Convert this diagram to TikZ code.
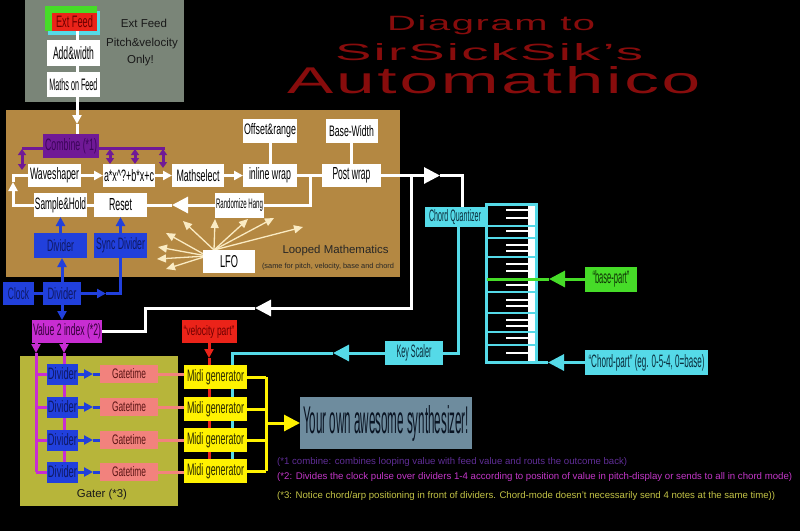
\documentclass[tikz,border=0pt]{standalone}
\usepackage{fontspec}
\setmainfont{Liberation Sans}
\usepackage{graphicx}
\usetikzlibrary{arrows.meta}
\pgfdeclarelayer{panel}
\pgfdeclarelayer{lines}
\pgfsetlayers{panel,lines,main}
\newcommand{\fitt}[3]{\resizebox{#1pt}{#2pt}{#3}}
\definecolor{greyp}{RGB}{122,133,120}
\definecolor{brownp}{RGB}{180,136,66}
\definecolor{olivep}{RGB}{183,181,58}
\definecolor{blueb}{RGB}{33,64,220}
\definecolor{bluet}{RGB}{15,25,100}
\definecolor{purpb}{RGB}{112,25,150}
\definecolor{purpt}{RGB}{60,5,90}
\definecolor{magb}{RGB}{200,45,210}
\definecolor{magt}{RGB}{55,0,60}
\definecolor{salm}{RGB}{242,130,125}
\definecolor{salmt}{RGB}{90,20,20}
\definecolor{yelb}{RGB}{255,242,0}
\definecolor{yelt}{RGB}{40,40,0}
\definecolor{cyanb}{RGB}{85,218,232}
\definecolor{cyant}{RGB}{10,45,60}
\definecolor{greenb}{RGB}{70,220,40}
\definecolor{greent}{RGB}{15,50,5}
\definecolor{redb}{RGB}{235,35,25}
\definecolor{redt}{RGB}{110,0,0}
\definecolor{synthb}{RGB}{110,140,158}
\definecolor{syntht}{RGB}{10,20,35}
\definecolor{titlered}{RGB}{135,12,12}
\definecolor{cream}{RGB}{250,235,195}
\definecolor{fnone}{RGB}{95,45,150}
\definecolor{fntwo}{RGB}{195,55,200}
\definecolor{fnthree}{RGB}{195,195,70}
\begin{document}
\begin{tikzpicture}[x=1pt,y=-1pt,
  nb/.style={inner sep=0pt,outer sep=0pt,align=center},
  wh/.style 2 args={minimum width=#1pt,minimum height=#2pt},
  wb/.style={nb,fill=white,text=black},
  bb/.style={nb,fill=blueb,text=bluet},
  lbl/.style={inner sep=0pt,text=black!90,font=\fontsize{11.5}{12}\selectfont},
  wl/.style={draw=white,line width=3pt},
  bl/.style={draw=blueb,line width=3pt},
  pl/.style={draw=purpb,line width=3pt},
  ml/.style={draw=magb,line width=3pt},
  cl/.style={draw=cyanb,line width=3pt},
  gl/.style={draw=greenb,line width=3pt},
  rl/.style={draw=redb,line width=3pt},
  sl/.style={draw=salm,line width=3pt},
  yl/.style={draw=yelb,line width=3pt},
  fan/.style={draw=cream,line width=1.3pt,-{Triangle[length=9pt,width=8pt]}},
  stip/.style={-{Triangle[length=9pt,width=9pt]}},
  btip/.style={-{Triangle[length=16pt,width=16pt]}},
  dtip/.style={{Triangle[length=6pt,width=8pt]}-{Triangle[length=6pt,width=8pt]}},
  ttl/.style={anchor=base west,inner sep=0,text=titlered}
]
\useasboundingbox (0,0) rectangle (800,531);

\begin{pgfonlayer}{panel}
\fill[black] (0,0) rectangle (800,531);
\fill[greyp] (25,0) rectangle (184,102);
\fill[brownp] (6,110) rectangle (400,277);
\fill[olivep] (20,356) rectangle (178,506);
\fill[cyanb] (48,11) rectangle (100,35);
\fill[greenb] (45,6) rectangle (97,31);
% keyboard
\fill[cyanb] (485,203) rectangle (538,364);
\fill[black] (488,206) rectangle (535,361);
\fill[white] (528,206) rectangle (535,361);
\foreach \y in {226,238,257,292,313,332,345}
  \fill[cyanb] (487,\y-1.2) rectangle (535,\y+1.2);
\foreach \y in {210,218,231,245,251,264,271,285,300,306,320,326,338,353}
  \fill[white] (506,\y-1.2) rectangle (528,\y+1.2);
\end{pgfonlayer}

% title
\node[ttl] (t1) at (387,30) {\fitt{208}{15}{\addfontfeature{LetterSpace=4}Diagram to}};
\node[ttl] (t2) at (335,60) {\fitt{308}{17}{\addfontfeature{LetterSpace=4}SirSickSik's}};
\node[ttl] (t3) at (287,93) {\fitt{413}{27}{\addfontfeature{LetterSpace=4}Automathico}};

% ext feed group
\node[nb,fill=redb,text=redt,wh={45}{18}] (ext) at (74.5,22) {\fitt{37}{12}{Ext Feed}};
\node[wb,wh={53}{26}] (addw) at (73.5,53) {\fitt{41}{13}{Add\&width}};
\node[wb,wh={53}{25}] (mof) at (73.5,84.5) {\fitt{48}{12}{Maths on Feed}};
\node[lbl] (lext) at (144,23) {Ext Feed};
\node[lbl] (lpv) at (142,44) {Pitch\&velocity};
\node[lbl] (lonly) at (140.5,61) {Only!};

% looped mathematics
\node[nb,fill=purpb,text=purpt,wh={56}{24}] (comb) at (71,146) {\fitt{52}{12}{Combine (*1)}};
\node[wb,wh={53}{23}] (wave) at (54.5,175.5) {\fitt{49}{12}{Waveshaper}};
\node[wb,wh={52}{23}] (poly) at (129,175.5) {\fitt{50}{12}{a*x\textasciicircum?+b*x+c}};
\node[wb,wh={52}{23}] (msel) at (198,175.5) {\fitt{43}{12}{Mathselect}};
\node[wb,wh={54}{23}] (iwrap) at (270,175.5) {\fitt{42}{12}{inline wrap}};
\node[wb,wh={59}{23}] (pwrap) at (351.5,175.5) {\fitt{38}{12}{Post wrap}};
\node[wb,wh={54}{24}] (offr) at (270,131) {\fitt{52}{11}{Offset\&range}};
\node[wb,wh={52}{24}] (basew) at (351.5,131) {\fitt{45}{11}{Base-Width}};
\node[wb,wh={53}{24}] (sh) at (60.5,205) {\fitt{51}{12}{Sample\&Hold}};
\node[wb,wh={53}{24}] (rst) at (120.5,205) {\fitt{23}{12}{Reset}};
\node[wb,wh={49}{25}] (rh) at (239.5,205) {\fitt{47}{10}{Randomize Hang}};
\node[bb,wh={53}{25}] (div0) at (60.5,245.5) {\fitt{27}{12}{Divider}};
\node[bb,wh={53}{25}] (sync) at (120.5,245.5) {\fitt{49}{12}{Sync Divider}};
\node[wb,wh={52}{23}] (lfo) at (229,261.5) {\fitt{18}{12}{LFO}};
\node[lbl,text=black!85] (lloop) at (335.5,251) {\resizebox{106pt}{!}{Looped Mathematics}};
\node[lbl,text=black!85] (lsame) at (328,267) {\resizebox{132pt}{!}{(same for pitch, velocity, base and chord}};

% clock area
\node[bb,wh={31}{23}] (clock) at (18.5,293.5) {\fitt{21}{12}{Clock}};
\node[bb,wh={38}{23}] (divc) at (62,293.5) {\fitt{29}{12}{Divider}};
\node[nb,fill=magb,text=magt,wh={70}{23}] (v2i) at (67,331.5) {\fitt{68}{12}{Value 2 index (*2)}};
\node[nb,fill=redb,text=redt,wh={55}{23}] (velo) at (209,331.5) {\fitt{51}{10}{“velocity part”}};

% gater
\foreach \i/\y/\my in {1/374/377,2/407/409,3/440/440,4/472/471}{
  \node[bb,wh={31}{21}] (gd\i) at (62.5,\y) {\fitt{29}{12}{Divider}};
  \node[nb,fill=salm,text=salmt,wh={58}{18}] (gt\i) at (129,\y) {\fitt{34}{10}{Gatetime}};
  \node[nb,fill=yelb,text=yelt,wh={63}{24}] (mg\i) at (215.5,\my) {\fitt{57}{12}{Midi generator}};
}
\node[lbl] (lgater) at (102,495) {\resizebox{50pt}{!}{Gater (*3)}};

\node[nb,fill=synthb,text=syntht,wh={172}{52}] (synth) at (386,423) {\fitt{166}{28}{Your own awesome synthesizer!}};

% chord side
\node[nb,fill=cyanb,text=cyant,wh={60}{20}] (cq) at (455,217) {\fitt{52}{12}{Chord Quantizer}};
\node[nb,fill=cyanb,text=cyant,wh={58}{24}] (ks) at (414,353) {\fitt{35}{13}{Key Scaler}};
\node[nb,fill=greenb,text=greent,wh={52}{25}] (base) at (611,279) {\fitt{37}{13}{“base-part”}};
\node[nb,fill=cyanb,text=cyant,wh={123}{25}] (cp) at (646.5,362.5) {\fitt{116}{13}{“Chord-part” (eg. 0-5-4, 0=base)}};

% footnotes
\node[anchor=west,inner sep=0,text=fnone] (f1) at (277,462) {\resizebox{350pt}{!}{(*1 combine: combines looping value with feed value and routs the outcome back)}};
\node[anchor=west,inner sep=0,text=fntwo] (f2) at (277,477) {\resizebox{515pt}{!}{(*2: Divides the clock pulse over dividers 1-4 according to position of value in pitch-display or sends to all in chord mode)}};
\node[anchor=west,inner sep=0,text=fnthree] (f3) at (277,496) {\resizebox{498pt}{!}{(*3: Notice chord/arp positioning in front of dividers. Chord-mode doesn't necessarily send 4 notes at the same time))}};

\begin{pgfonlayer}{lines}
% ext feed
\coordinate (ea) at (77,30);
\coordinate (eb) at (77,124);
\draw[wl,stip] (ea) -- (eb);
\draw[wl] (eb) -- (comb.north -| eb);
% purple bracket
\draw[pl] (22,148) -- (165,148);
\foreach \x/\yb in {22/170,110/164,135/164,163/168}
  \draw[pl,dtip] (\x,149) -- (\x,\yb);
% row arrows
\draw[wl,stip] (wave) -- (poly);
\draw[wl,stip] (poly) -- (msel);
\draw[wl,stip] (msel) -- (iwrap);
\draw[wl] (iwrap) -- (pwrap);
\draw[wl] (offr) -- (iwrap);
\draw[wl] (basew) -- (pwrap);
% loop back
\coordinate (l1) at (310,175.5);
\coordinate (l2) at (310,205);
\coordinate (l3) at (172,205);
\coordinate (l4) at (13,205);
\coordinate (l5) at (13,182);
\coordinate (l6) at (13,175.5);
\draw[wl] (l1) -- (l2) -- (rh.east);
\draw[wl,btip] (rh.west) -- (l3);
\draw[wl] (l3) -- (rst.east);
\draw[wl] (rst) -- (sh);
\draw[wl,stip] (sh.west) -- (l4) -- (l5);
\draw[wl] (l5) -- (l6) -- (wave.west);
% LFO fan
\coordinate (lfa) at (207,256);
\coordinate (lfb) at (214,250);
\foreach \tx/\ty in {166/233,158/247,157/259,166/269}
  \draw[fan] (lfa) -- (\tx,\ty);
\foreach \tx/\ty in {183/221,215/219,248/219,274/218,303/227}
  \draw[fan] (lfb) -- (\tx,\ty);
% blue
\draw[bl,stip] (div0) -- (sh);
\draw[bl,stip] (sync) -- (rst);
\draw[bl] (clock) -- (divc);
\draw[bl,stip] (divc.north) -- (divc.north |- div0.south);
\draw[bl,stip] (divc.south) -- (divc.south |- v2i.north);
\coordinate (c1) at (106,293.5);
\coordinate (c2) at (120.5,293.5);
\draw[bl,stip] (divc.east) -- (c1);
\draw[bl] (c1) -- (c2) -- (sync.south);
% white to chord quantizer and value 2 index
\coordinate (w1) at (440,175.5);
\coordinate (w2) at (462,175.5);
\coordinate (w3) at (411,175.5);
\coordinate (w4) at (411,308);
\coordinate (w5) at (255,308);
\coordinate (w6) at (145,308);
\coordinate (w7) at (145,331.5);
\draw[wl,btip] (pwrap.east) -- (w1);
\draw[wl] (w1) -- (w2) -- (w2 |- cq.north);
\draw[wl,btip] (w3) -- (w4) -- (w5);
\draw[wl] (w5) -- (w6) -- (w7) -- (v2i.east);
% cyan
\coordinate (k1) at (458,353);
\draw[cl] (cq.south -| k1) -- (k1) -- (ks.east);
\coordinate (k2) at (333,353);
\coordinate (k3) at (232,353);
\coordinate (k4) at (232,460);
\draw[cl,btip] (ks.west) -- (k2);
\draw[cl] (k2) -- (k3) -- (k4);
\coordinate (cp1) at (548,362.5);
\coordinate (cp2) at (537,362.5);
\draw[cl,btip] (cp.west) -- (cp1);
\draw[cl] (cp1) -- (cp2);
% green
\coordinate (g1) at (549,279);
\coordinate (g2) at (487,279);
\draw[gl,btip] (base.west) -- (g1);
\draw[gl] (g1) -- (g2);
% red
\coordinate (r1) at (209,358);
\coordinate (r2) at (209,460);
\draw[rl,stip] (velo.south) -- (r1);
\draw[rl] (r1) -- (r2);
% magenta
\coordinate (m1) at (36,353);
\coordinate (m2) at (36,472);
\coordinate (m3) at (64,353);
\coordinate (m4) at (64,472);
\draw[ml,stip] (v2i.south -| m1) -- (m1);
\draw[ml] (m1) -- (m2);
\draw[ml,stip] (v2i.south -| m3) -- (m3);
\draw[ml] (m3) -- (m4);
% gater rows
\coordinate (y1) at (266,377);
\coordinate (y2) at (266,471);
\coordinate (y3) at (266,423);
\foreach \i in {1,...,4}{
  \draw[ml] (gd\i.west -| m1) -- (gd\i.west);
  \draw[bl,stip] (gd\i.east) -- ++(15,0) coordinate (ga\i);
  \draw[bl] (ga\i) -- (gt\i.west);
  \draw[sl] (gt\i.east) -- (gt\i.east -| mg\i.west);
  \draw[yl] (mg\i.east) -- (mg\i.east -| y1);
}
\draw[yl] (y1) -- (y2);
\draw[yl,btip] (y3) -- (synth.west);
\end{pgfonlayer}
\end{tikzpicture}
\end{document}
